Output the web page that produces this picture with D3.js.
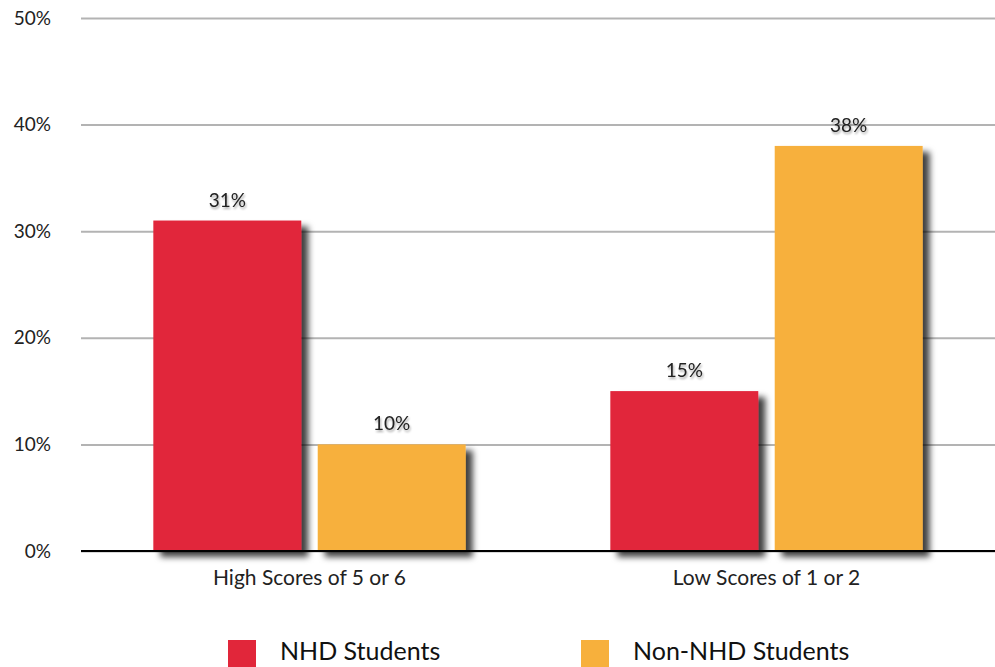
<!DOCTYPE html>
<html><head><meta charset="utf-8">
<script src="https://cdn.jsdelivr.net/npm/d3@7"></script>
<style>body{margin:0;background:#fff}svg{display:block;font-family:Lato,"Open Sans",sans-serif}</style>
</head><body><svg id="c" width="995" height="667"></svg>
<script>
const categories = ["High Scores of 5 or 6", "Low Scores of 1 or 2"];
const seriesNames = ["NHD Students", "Non-NHD Students"];
const nhdValues = [31, 15];
const nonNhdValues = [10, 38];
const tickValues = [0, 10, 20, 30, 40, 50];
const colors = ["#e1263a", "#f7b03c"];

(function(){
const svg = d3.select("#c");
const mLeft = 81, mRight = 995, mTop = 18, mBottom = 551;
const defs = svg.append("defs");
defs.append("filter").attr("id","sh").attr("x","-20%").attr("y","-20%").attr("width","150%").attr("height","150%")
  .append("feDropShadow").attr("dx",7).attr("dy",6).attr("stdDeviation",3).attr("flood-color","#000").attr("flood-opacity",0.75);
defs.append("filter").attr("id","tsh").attr("x","-20%").attr("y","-20%").attr("width","150%").attr("height","150%")
  .append("feDropShadow").attr("dx",1).attr("dy",2).attr("stdDeviation",1.2).attr("flood-color","#000").attr("flood-opacity",0.35);

const y = d3.scaleLinear().domain([0,50]).range([mBottom, mTop]);
const x0 = d3.scaleBand().domain(categories).range([mLeft, mRight]).paddingInner(0).paddingOuter(0);
const x1 = d3.scaleBand().domain(seriesNames).range([0, x0.bandwidth()]).paddingInner(0.1).paddingOuter(0.44);

const yAxis = d3.axisLeft(y).tickValues(tickValues).tickFormat(d => d + "%").tickSize(-(mRight-mLeft)).tickPadding(30);
const gy = svg.append("g").attr("transform", `translate(${mLeft},0)`).call(yAxis);
gy.select(".domain").remove();
gy.selectAll(".tick line").attr("stroke","#b3b3b3").attr("stroke-width",2);
gy.selectAll(".tick text").attr("fill","#222").attr("font-size",19).attr("font-family","Lato,sans-serif");

const data = categories.map((c,i) => ({cat:c, vals:[{s:seriesNames[0],v:nhdValues[i]},{s:seriesNames[1],v:nonNhdValues[i]}]}));
const g = svg.append("g");
const grp = g.selectAll("g.grp").data(data).join("g").attr("transform", d => `translate(${x0(d.cat)},0)`);
grp.selectAll("rect").data(d => d.vals).join("rect")
  .attr("x", d => x1(d.s)).attr("width", x1.bandwidth())
  .attr("y", d => y(d.v)).attr("height", d => y(0) - y(d.v))
  .attr("fill", (d,i) => colors[i]).attr("filter","url(#sh)");
grp.selectAll("text").data(d => d.vals).join("text")
  .attr("x", d => x1(d.s) + x1.bandwidth()/2).attr("y", d => y(d.v) - 14)
  .attr("text-anchor","middle").attr("font-size",19).attr("fill","#222").attr("filter","url(#tsh)")
  .text(d => d.v + "%");

svg.append("line").attr("x1",mLeft).attr("x2",mRight).attr("y1",y(0)).attr("y2",y(0)).attr("stroke","#000").attr("stroke-width",2);

const xAxis = d3.axisBottom(x0).tickSize(0).tickPadding(19);
const gx = svg.append("g").attr("transform",`translate(0,${y(0)})`).call(xAxis);
gx.select(".domain").remove();
gx.selectAll(".tick text").attr("fill","#222").attr("font-size",21).attr("font-family","Lato,sans-serif");

const legX = [228, 581];
const leg = svg.append("g").selectAll("g").data(seriesNames).join("g").attr("transform",(d,i)=>`translate(${legX[i]},640)`);
leg.append("rect").attr("width",28).attr("height",28).attr("fill",(d,i)=>colors[i]);
leg.append("text").attr("x",52).attr("y",20).attr("font-size",25).attr("fill","#111").text(d=>d);
})();
</script></body></html>
